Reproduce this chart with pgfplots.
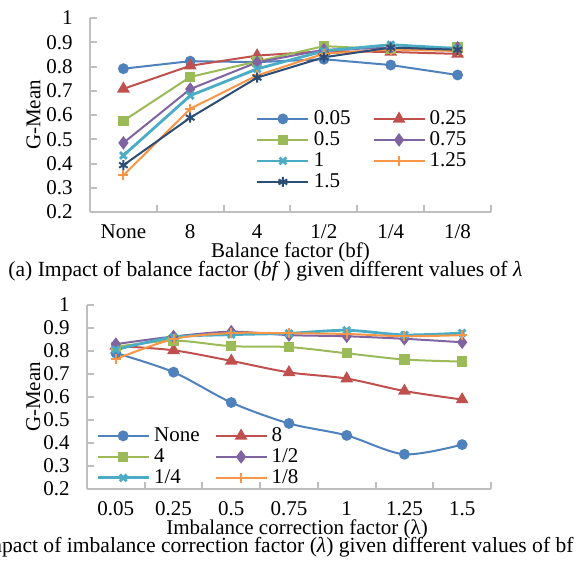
\documentclass[border=0pt]{standalone}
\usepackage{fontspec}
\setmainfont{Liberation Serif}
\usepackage{pgfplots}
\pgfplotsset{compat=1.18}
\usepackage{pgfplotstable}

\definecolor{cblue}{HTML}{4F81BD}
\definecolor{cred}{HTML}{C0504D}
\definecolor{cgreen}{HTML}{9BBB59}
\definecolor{cpurple}{HTML}{8064A2}
\definecolor{ccyan}{HTML}{4BACC6}
\definecolor{corange}{HTML}{F79646}
\definecolor{cnavy}{HTML}{2C4D75}
\definecolor{axgray}{HTML}{BFBFBF}

% G-Mean, rows = bf (None, 8, 4, 1/2, 1/4, 1/8), columns = lambda
\pgfplotstableread{
x l005  l025  l05   l075  l1    l125  l15
0 0.791 0.708 0.576 0.485 0.433 0.351 0.393
1 0.822 0.803 0.757 0.707 0.680 0.626 0.589
2 0.818 0.845 0.821 0.817 0.790 0.763 0.754
3 0.830 0.863 0.884 0.869 0.864 0.853 0.838
4 0.806 0.860 0.871 0.877 0.890 0.870 0.878
5 0.765 0.852 0.878 0.877 0.874 0.864 0.869
}\bybf

% same values, rows = lambda (0.05 ... 1.5), columns = bf
\pgfplotstableread{
x none  b8    b4    bh    bq    be
0 0.791 0.822 0.818 0.830 0.806 0.765
1 0.708 0.803 0.845 0.863 0.860 0.852
2 0.576 0.757 0.821 0.884 0.871 0.878
3 0.485 0.707 0.817 0.869 0.877 0.877
4 0.433 0.680 0.790 0.864 0.890 0.874
5 0.351 0.626 0.763 0.853 0.870 0.864
6 0.393 0.589 0.754 0.838 0.878 0.869
}\bylam

\newcommand{\fs}{\fontsize{10.5}{12}\selectfont}

\pgfplotsset{
  gm/.style={
    scale only axis,
    axis lines=left,
    axis line style={-, draw=axgray, line width=1pt},
    tick style={draw=axgray, line width=1pt},
    major tick length=3.5pt, minor tick length=3.5pt,
    tick align=inside,
    every major x tick/.append style={draw=none},
    ymin=0.2, ymax=1,
    ytick={0.2,0.3,0.4,0.5,0.6,0.7,0.8,0.9,1},
    /pgf/number format/assume math mode=true,
    every tick label/.append style={font=\fs},
    yticklabel style={anchor=east, xshift=-5.2pt},
    xticklabel style={anchor=base, yshift=-13pt},
    label style={font=\fs},
    ylabel={G-Mean},
    legend columns=2,
    legend cell align=left,
    legend style={draw=none, fill=none, font=\fs, inner sep=0pt,
      nodes={inner sep=1pt, text height=7pt, text depth=1.5pt},
      /tikz/every odd column/.append style={column sep=1pt}},
    legend image code/.code={
      \draw[mark repeat=2, mark phase=2]
        plot coordinates {(0pt,0pt) (12.75pt,0pt) (25.5pt,0pt)};},
    clip=false,
  },
  sa/.style={cblue, line width=1pt, mark=*, mark size=2.2pt},
  sb/.style={cred, line width=1pt, mark=triangle*, mark size=2.7pt},
  sc/.style={cgreen, line width=1pt, mark=square*, mark size=2.1pt},
  sd/.style={cpurple, line width=1pt, mark=diamond*, mark size=2.6pt},
  se/.style={ccyan, line width=1.4pt, mark=x, mark size=2.4pt},
  sf/.style={corange, line width=1pt, mark=+, mark size=2.5pt},
  sg/.style={cnavy, line width=1pt, mark=asterisk, mark size=2.5pt},
}

\begin{document}
\begin{tikzpicture}
\useasboundingbox (0,0) rectangle (288.5pt,-283pt);
\clip (0,0) rectangle (288.5pt,-283pt);

\begin{axis}[gm,
  at={(45pt,-106pt)}, anchor=south west,
  width=200.5pt, height=97pt,
  xmin=-0.5, xmax=5.5,
  xtick={0,1,2,3,4,5},
  xticklabels={None,8,4,1/2,1/4,1/8},
  minor xtick={-0.5,0.5,1.5,2.5,3.5,4.5,5.5},
  xlabel={Balance factor (bf)},
  xlabel style={at={(axis description cs:0.5,0)}, anchor=base, yshift=-22.5pt},
  ylabel style={at={(axis description cs:-0.141,0.5)}, anchor=center},
  legend style={at={(axis description cs:0.413,0.536)}, anchor=north west,
    /tikz/every even column/.append style={column sep=10pt}},
]
\addplot[sa] table[x=x,y=l005]{\bybf};
\addplot[sb] table[x=x,y=l025]{\bybf};
\addplot[sc] table[x=x,y=l05]{\bybf};
\addplot[sd] table[x=x,y=l075]{\bybf};
\addplot[se] table[x=x,y=l1]{\bybf};
\addplot[sf] table[x=x,y=l125]{\bybf};
\addplot[sg] table[x=x,y=l15]{\bybf};
\legend{0.05,0.25,0.5,0.75,1,1.25,1.5}
\end{axis}

\node[anchor=base west, font=\fontsize{10.8}{12}\selectfont, inner sep=0pt]
  at (4pt,-138.5pt) {(a) Impact of balance factor (\textit{bf}\,) given different values of \textit{λ}};

\begin{axis}[gm,
  at={(43.5pt,-244.5pt)}, anchor=south west,
  width=202pt, height=92pt,
  xmin=-0.5, xmax=6.5,
  xtick={0,1,2,3,4,5,6},
  xticklabels={0.05,0.25,0.5,0.75,1,1.25,1.5},
  minor xtick={-0.5,0.5,1.5,2.5,3.5,4.5,5.5,6.5},
  xlabel={Imbalance correction factor (λ)},
  xlabel style={at={(axis description cs:0.5,0)}, anchor=base, yshift=-22.5pt, xshift=4pt},
  ylabel style={at={(axis description cs:-0.133,0.5)}, anchor=center},
  legend style={at={(axis description cs:0.022,0.348)}, anchor=north west,
    /tikz/every even column/.append style={column sep=6.5pt}},
]
\addplot[sa, smooth] table[x=x,y=none]{\bylam};
\addplot[sb, smooth] table[x=x,y=b8]{\bylam};
\addplot[sc, smooth] table[x=x,y=b4]{\bylam};
\addplot[sd, smooth] table[x=x,y=bh]{\bylam};
\addplot[se, smooth] table[x=x,y=bq]{\bylam};
\addplot[sf, smooth] table[x=x,y=be]{\bylam};
\legend{None,8,4,1/2,1/4,1/8}
\end{axis}

\node[anchor=base east, font=\fontsize{10.8}{12}\selectfont, inner sep=0pt]
  at (287pt,-276pt) {(b) Impact of imbalance correction factor (\textit{λ}) given different values of bf};
\end{tikzpicture}
\end{document}
